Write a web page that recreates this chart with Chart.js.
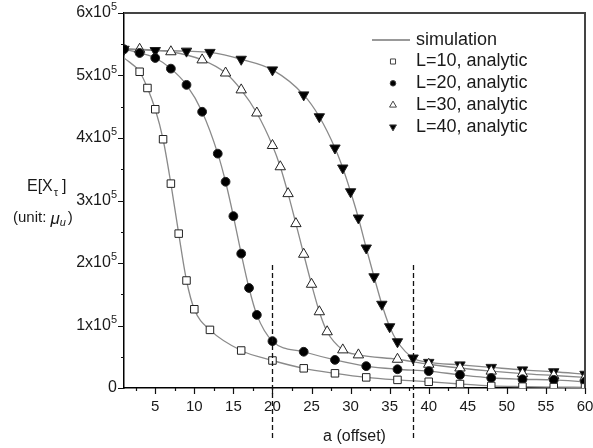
<!DOCTYPE html>
<html>
<head>
<meta charset="utf-8">
<script src="https://cdn.jsdelivr.net/npm/chart.js@4.4.0/dist/chart.umd.min.js"></script>
<style>
html, body { margin: 0; padding: 0; background: #fff; }
</style>
</head>
<body>
<canvas id="chart" width="593" height="448"></canvas>
<script>
// values (E[X] in units of mu_u)
const aL10 = [3, 4, 5, 6, 7, 8, 9, 10, 12, 16, 20, 24, 28, 32, 36, 40, 44, 48, 52, 56, 60];
const eL10 = [506000, 480000, 446000, 398000, 327000, 247000, 172000, 126000, 93000, 60000, 44000, 31500, 23500, 17000, 13000, 10000, 6400, 3300, 2200, 1500, 1000];

const aL20 = [1, 3, 5, 7, 9, 11, 13, 14, 15, 16, 17, 18, 20, 24, 28, 32, 36, 40, 44, 48, 52, 56, 60];
const eL20 = [542000, 536000, 528000, 511000, 485000, 442000, 375000, 330000, 275000, 215000, 160000, 117000, 75000, 58000, 45000, 35000, 30000, 27000, 21000, 16000, 14000, 13000, 10000];

const aL30 = [3, 7, 11, 14, 16, 18, 20, 21, 22, 23, 24, 25, 26, 27, 29, 31, 36, 40, 44, 48, 52, 56, 60];
const eL30 = [542000, 538000, 525000, 504000, 477000, 440000, 388000, 354000, 311000, 263000, 214000, 166000, 122000, 90000, 61000, 53000, 46000, 38000, 32000, 27000, 23000, 20000, 17000];

const aL40 = [1, 5, 9, 12, 16, 20, 24, 26, 28, 29, 30, 31, 32, 33, 34, 35, 36, 38, 40, 44, 48, 52, 56, 60];
const eL40 = [542000, 540000, 539000, 537000, 526000, 509000, 469000, 434000, 384000, 352000, 314000, 272000, 224000, 178000, 134000, 98000, 74000, 48000, 41000, 37000, 33000, 29000, 26000, 22000];

// simulation curves start at a = 1
const simStartL10 = 528000;
const simStartL30 = 543000;

const xTicks = [5, 10, 15, 20, 25, 30, 35, 40, 45, 50, 55, 60];
const yTicks = [0, 1, 2, 3, 4, 5, 6];
const markLines = [20, 38];

function pairs(xs, ys) {
    return xs.map((x, i) => ({x: x, y: ys[i]}));
}

const simColor = '#8a8a8a';

function simSet(data) {
    return {
        label: 'simulation',
        data: data,
        borderColor: simColor,
        borderWidth: 1.3,
        pointRadius: 0,
        showLine: true,
        cubicInterpolationMode: 'monotone',
        fill: false,
        order: 1
    };
}

function markSet(label, data, style, radius, fillCol, rot) {
    return {
        label: label,
        data: data,
        showLine: false,
        pointStyle: style,
        pointRadius: radius,
        pointRotation: rot || 0,
        pointBackgroundColor: fillCol,
        pointBorderColor: '#222',
        pointBorderWidth: 1,
        order: 0
    };
}

const datasets = [
    markSet('L=10, analytic', pairs(aL10, eL10), 'rect', 5.3, '#fff'),
    markSet('L=20, analytic', pairs(aL20, eL20), 'circle', 4.4, '#000'),
    markSet('L=30, analytic', pairs(aL30, eL30), 'triangle', 6, '#fff'),
    markSet('L=40, analytic', pairs(aL40, eL40), 'triangle', 6, '#000', 180),
    simSet([{x: 1, y: simStartL10}].concat(pairs(aL10, eL10))),
    simSet(pairs(aL20, eL20)),
    simSet([{x: 1, y: simStartL30}].concat(pairs(aL30, eL30))),
    simSet(pairs(aL40, eL40))
];

const decor = {
    id: 'decor',
    afterDraw(chart) {
        const ctx = chart.ctx;
        const xs = chart.scales.x;
        const ys = chart.scales.y;
        const area = chart.chartArea;
        ctx.save();

        // top and right frame
        ctx.strokeStyle = '#444';
        ctx.lineWidth = 2;
        ctx.beginPath();
        ctx.moveTo(area.left, area.top);
        ctx.lineTo(area.right, area.top);
        ctx.lineTo(area.right, area.bottom);
        ctx.stroke();

        // ticks
        ctx.strokeStyle = '#111';
        ctx.lineWidth = 1.2;
        ctx.beginPath();
        yTicks.forEach(v => {
            const y = Math.round(ys.getPixelForValue(v * 1e5)) + 0.5;
            ctx.moveTo(area.left - 6, y);
            ctx.lineTo(area.left, y);
            if (v < 6) {
                const ym = Math.round(ys.getPixelForValue(v * 1e5 + 5e4)) + 0.5;
                ctx.moveTo(area.left - 3, ym);
                ctx.lineTo(area.left, ym);
            }
        });
        xTicks.forEach(v => {
            const x = Math.round(xs.getPixelForValue(v)) + 0.5;
            ctx.moveTo(x, area.bottom);
            ctx.lineTo(x, area.bottom + 6);
            const xm = Math.round(xs.getPixelForValue(v - 2.5)) + 0.5;
            ctx.moveTo(xm, area.bottom);
            ctx.lineTo(xm, area.bottom + 3);
        });
        ctx.stroke();

        // tick labels
        ctx.fillStyle = '#1a1a1a';
        ctx.textBaseline = 'middle';
        ctx.font = '15px Arial, "Liberation Sans", sans-serif';
        ctx.textAlign = 'center';
        xTicks.forEach(v => {
            ctx.fillText(String(v), xs.getPixelForValue(v), area.bottom + 19);
        });

        ctx.textAlign = 'left';
        yTicks.forEach(v => {
            const y = ys.getPixelForValue(v * 1e5);
            const right = area.left - 7;
            if (v === 0) {
                ctx.font = '16px Arial, "Liberation Sans", sans-serif';
                ctx.textAlign = 'right';
                ctx.fillText('0', right, y);
                ctx.textAlign = 'left';
                return;
            }
            const base = v + 'x10';
            ctx.font = '11px Arial, "Liberation Sans", sans-serif';
            const supW = ctx.measureText('5').width;
            ctx.font = '16px Arial, "Liberation Sans", sans-serif';
            const baseW = ctx.measureText(base).width;
            const x0 = right - supW - baseW;
            ctx.fillText(base, x0, y);
            ctx.font = '11px Arial, "Liberation Sans", sans-serif';
            ctx.fillText('5', x0 + baseW, y - 6);
        });

        // y axis title
        ctx.font = '16px Arial, "Liberation Sans", sans-serif';
        ctx.fillText('E[X', 27, 187);
        let w = ctx.measureText('E[X').width;
        ctx.font = '11px Arial, "Liberation Sans", sans-serif';
        ctx.fillText('\u03c4', 27 + w + 1, 193);
        ctx.font = '16px Arial, "Liberation Sans", sans-serif';
        ctx.fillText(']', 62, 187);

        ctx.font = '15px Arial, "Liberation Sans", sans-serif';
        ctx.fillText('(unit: ', 13, 218);
        w = ctx.measureText('(unit: ').width;
        ctx.font = 'italic 17px Arial, "Liberation Sans", sans-serif';
        ctx.fillText('\u03bc', 13 + w, 219);
        const w2 = ctx.measureText('\u03bc').width;
        ctx.font = 'italic 11px Arial, "Liberation Sans", sans-serif';
        ctx.fillText('u', 13 + w + w2, 223);
        ctx.font = '15px Arial, "Liberation Sans", sans-serif';
        ctx.fillText(')', 13 + w + w2 + 8, 218);

        // dashed marker lines
        ctx.strokeStyle = '#111';
        ctx.lineWidth = 1.3;
        ctx.setLineDash([5, 3]);
        ctx.beginPath();
        markLines.forEach(v => {
            const x = Math.round(xs.getPixelForValue(v)) + 0.5;
            ctx.moveTo(x, ys.getPixelForValue(1.97e5));
            ctx.lineTo(x, chart.height - 8);
        });
        ctx.stroke();
        ctx.setLineDash([]);

        // legend
        const lx = 393, tx = 416;
        let ly = 40;
        ctx.strokeStyle = '#999';
        ctx.lineWidth = 2;
        ctx.beginPath();
        ctx.moveTo(372, ly);
        ctx.lineTo(410, ly);
        ctx.stroke();
        ctx.font = '18px Arial, "Liberation Sans", sans-serif';
        ctx.fillStyle = '#1a1a1a';
        ctx.fillText('simulation', tx, ly);
        for (let i = 0; i < 4; i++) {
            ly = 61.5 + i * 21.8;
            const ds = chart.data.datasets[i];
            ctx.fillStyle = ds.pointBackgroundColor;
            ctx.strokeStyle = '#444';
            ctx.lineWidth = 1;
            Chart.helpers.drawPoint(ctx, {
                pointStyle: ds.pointStyle,
                radius: ds.pointStyle === 'circle' ? 2.8 : (ds.pointStyle === 'rect' ? 3.6 : 4),
                rotation: ds.pointRotation,
                borderWidth: 1
            }, lx, ly);
            ctx.fillStyle = '#1a1a1a';
            ctx.font = '18px Arial, "Liberation Sans", sans-serif';
            ctx.fillText(ds.label, tx, ly);
        }
        ctx.restore();
    }
};

new Chart(document.getElementById('chart'), {
    type: 'line',
    data: {datasets: datasets},
    options: {
        responsive: false,
        animation: false,
        layout: {padding: {top: 13, right: 8, left: 0, bottom: 0}},
        plugins: {
            legend: {display: false},
            tooltip: {enabled: false}
        },
        scales: {
            x: {
                type: 'linear',
                min: 1,
                max: 60,
                grid: {display: false},
                border: {display: true, color: '#000', width: 1.5},
                ticks: {display: false},
                title: {
                    display: true,
                    text: 'a (offset)',
                    color: '#1a1a1a',
                    font: {family: 'Arial, "Liberation Sans", sans-serif', size: 16},
                    padding: {top: 0, bottom: 2}
                },
                afterFit(scale) { scale.height = 60; }
            },
            y: {
                type: 'linear',
                min: 0,
                max: 600000,
                grid: {display: false},
                border: {display: true, color: '#000', width: 1.5},
                ticks: {display: false},
                afterFit(scale) { scale.width = 124; }
            }
        }
    },
    plugins: [decor]
});
</script>
</body>
</html>
